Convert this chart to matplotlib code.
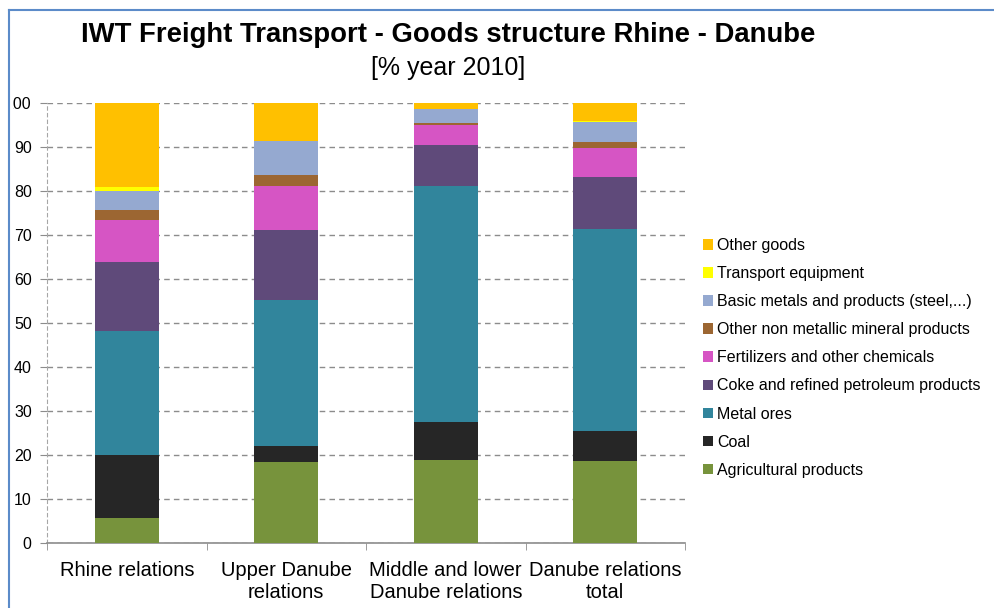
import matplotlib
matplotlib.use("Agg")
import matplotlib.pyplot as plt
import numpy as np
from matplotlib.patches import Patch
from matplotlib.lines import Line2D
from matplotlib.transforms import Bbox

plt.rcParams['font.family'] = ['Liberation Sans', 'DejaVu Sans']

categories = ["Rhine relations", "Upper Danube\nrelations",
              "Middle and lower\nDanube relations", "Danube relations\ntotal"]

goods = ["Agricultural products", "Coal", "Metal ores",
         "Coke and refined petroleum products", "Fertilizers and other chemicals",
         "Other non metallic mineral products", "Basic metals and products (steel,...)",
         "Transport equipment", "Other goods"]

agri      = [5.6, 18.4, 18.9, 18.6]
coal      = [14.5, 3.7, 8.6, 6.9]
metal_ore = [28.0, 33.1, 53.6, 45.9]
coke      = [15.8, 16.0, 9.3, 11.7]
fert      = [9.6, 9.9, 4.7, 6.7]
non_met   = [2.1, 2.6, 0.4, 1.3]
basic_met = [4.4, 7.6, 3.1, 4.6]
transport = [1.0, 0.0, 0.0, 0.3]
other     = [18.9, 8.7, 1.4, 4.0]

series = [agri, coal, metal_ore, coke, fert, non_met, basic_met, transport, other]
colors = ["#77933C", "#262626", "#31859C", "#5F4A7A", "#D655C4",
          "#9C6632", "#95A9D0", "#FFFF00", "#FFC000"]

yticks = [0, 10, 20, 30, 40, 50, 60, 70, 80, 90, 100]

fig = plt.figure(figsize=(9.94, 6.08), dpi=100)
W, H = 994, 608
ax = fig.add_axes([47 / W, 1 - 543 / H, (685 - 47) / W, (543 - 103) / H])

x = np.arange(len(categories))
bottom = np.zeros(len(categories))
for vals, col in zip(series, colors):
    ax.bar(x, vals, width=0.4, bottom=bottom, color=col, edgecolor='none', zorder=3)
    bottom += np.array(vals)

ax.set_xlim(-0.5, 3.5)
ax.set_ylim(0, 100)
ax.set_yticks(yticks)
ax.set_yticklabels([str(v) for v in yticks], fontsize=11.5)
ax.yaxis.grid(True, linestyle=(0, (4, 3)), color='#8c8c8c', linewidth=1, zorder=0)

ax.set_xticks(x)
ax.set_xticklabels(categories, fontsize=14.5)
ax.set_xticks([-0.5, 0.5, 1.5, 2.5, 3.5], minor=True)
ax.tick_params(axis='x', which='major', length=0, pad=13)
ax.tick_params(axis='x', which='minor', length=5, color='#8c8c8c', direction='out')
ax.tick_params(axis='y', length=5, color='#8c8c8c', pad=6)

for s in ['top', 'right']:
    ax.spines[s].set_visible(False)
ax.spines['bottom'].set_color('#8c8c8c')
ax.spines['bottom'].set_linewidth(1.2)
ax.spines['left'].set_color('#a6a6a6')
ax.spines['left'].set_linestyle((0, (3, 3)))

# chart area starts a little inside the image, so the "100" label is cut
clip = Bbox.from_extents(13, 0, W, H)
for lab in ax.get_yticklabels():
    lab.set_clip_on(True)
    lab.set_clip_box(clip)

fig.text(448 / W, 1 - 35 / H, "IWT Freight Transport - Goods structure Rhine - Danube",
         ha='center', va='center', fontsize=19.8, fontweight='bold')
fig.text(448 / W, 1 - 68 / H, "[% year 2010]", ha='center', va='center', fontsize=18)

handles = [Patch(facecolor=c, edgecolor='none') for c in colors][::-1]
fig.legend(handles, goods[::-1], loc='upper left', bbox_to_anchor=(703 / W, 1 - 238 / H),
           frameon=False, fontsize=11.5, handlelength=0.65, handleheight=0.65,
           handletextpad=0.25, labelspacing=0.82, borderaxespad=0, borderpad=0)

# blue frame of the original chart object
fig.add_artist(Line2D([9 / W, 9 / W], [0, 1 - 10 / H], color='#5B8BC9', linewidth=1.5))
fig.add_artist(Line2D([9 / W, 1], [1 - 10 / H, 1 - 10 / H], color='#5B8BC9', linewidth=1.5))

fig.savefig("out.png", dpi=100)
